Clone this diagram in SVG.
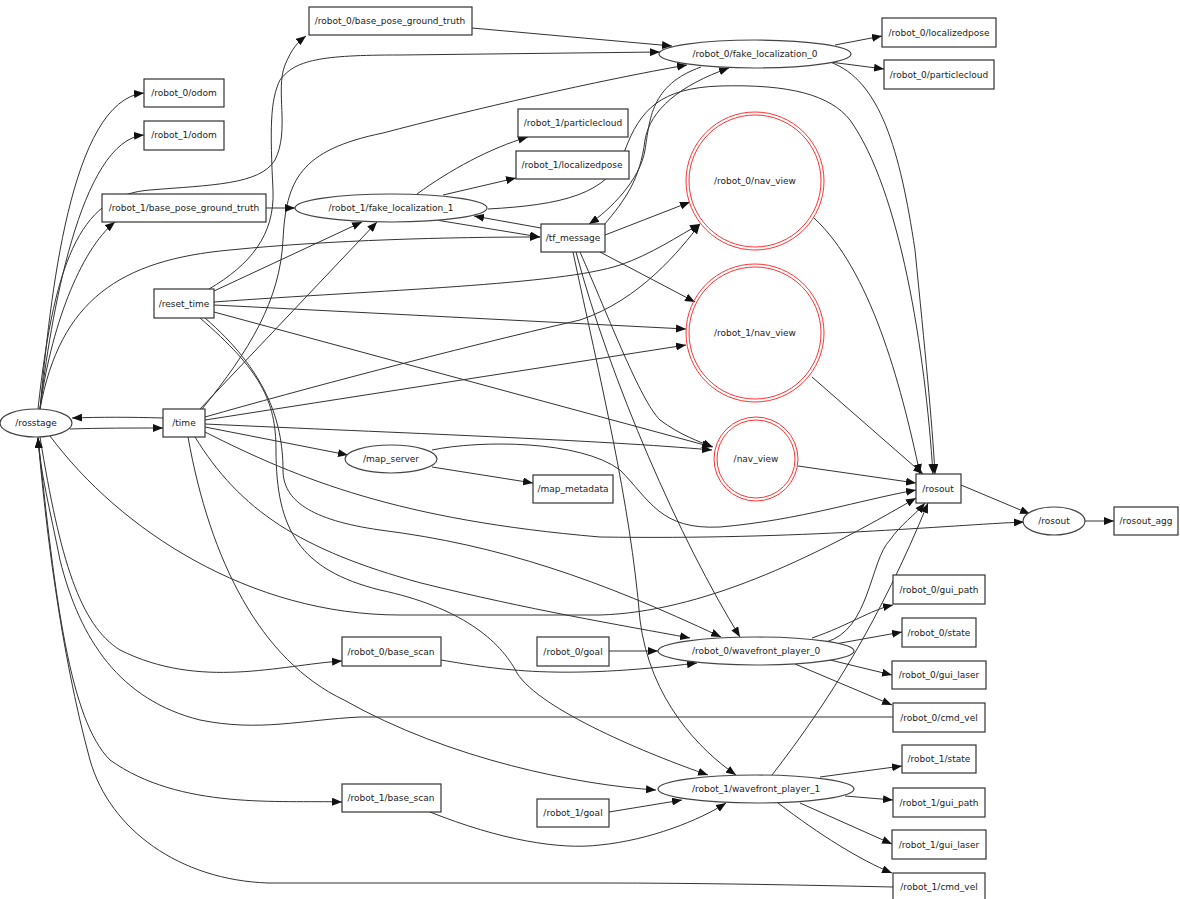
<svg xmlns="http://www.w3.org/2000/svg" width="1180" height="899" viewBox="0 0 1180 899">
<style>
rect.n{fill:#fff;stroke:#333;stroke-width:1.2}
ellipse.n{fill:#fff;stroke:#444;stroke-width:1.2}
ellipse.r{fill:none;stroke:#f33;stroke-width:1}
text{font-family:"DejaVu Sans",sans-serif;font-size:9px;fill:#222;text-anchor:middle;dominant-baseline:central}
#edges path{fill:none;stroke:#333;stroke-width:1;marker-end:url(#a)}
</style>
<defs><marker id="a" markerUnits="userSpaceOnUse" markerWidth="10" markerHeight="8" refX="10" refY="4" orient="auto"><path d="M0,0 L10,4 L0,8 z" fill="#111"/></marker></defs>
<rect width="1180" height="899" fill="#fff"/>
<g id="edges">
<path d="M40,409 C50,300 70,100 144,93"/>
<path d="M40,409 C50,320 80,140 144,135"/>
<path d="M38,409 C55,250 85,195 150,190 C210,185 260,185 275,160 C290,130 275,90 285,65 C292,48 298,42 306,36"/>
<path d="M40,409 C50,330 80,250 115,222"/>
<path d="M40,409 C60,300 120,260 230,250 C330,240 450,237 540,237"/>
<path d="M70,429 C100,428 130,428 163,428"/>
<path d="M163,418 C130,417 100,417 72,418"/>
<path d="M50,436 C120,530 250,615 400,615 L600,615 C700,612 810,560 916,498"/>
<path d="M40,437 C60,560 80,625 120,650 C200,690 280,665 342,661"/>
<path d="M38,437 C55,600 70,720 110,760 C180,810 280,800 342,802"/>
<path d="M893,717 L360,717 C300,720 260,732 200,720 C120,700 80,640 60,560 C50,510 40,470 38,438"/>
<path d="M893,887 C800,885 700,883 600,883 L268,883 C180,880 110,830 90,760 C60,650 45,520 38,438"/>
<path d="M200,409 L377,222"/>
<path d="M214,291 L362,222"/>
<path d="M202,409 C250,350 280,300 283,240 C286,180 300,150 383,133 C470,110 600,80 687,65"/>
<path d="M209,289 C250,265 275,235 273,190 C270,130 270,100 280,80 C295,60 320,55 400,55 L660,52"/>
<path d="M472,28 L672,46"/>
<path d="M835,45 L882,36"/>
<path d="M830,62 L884,69"/>
<path d="M830,62 C880,80 900,150 915,250 C925,350 932,420 935,474"/>
<path d="M488,209 C560,205 610,195 625,150 C640,110 660,88 720,86 C790,84 830,95 850,120 C900,190 925,350 933,474"/>
<path d="M701,67 C650,85 650,120 645,150 C640,180 610,210 589,224"/>
<path d="M604,225 C625,200 640,180 645,140 C650,110 680,85 729,68"/>
<path d="M266,208 L295,208"/>
<path d="M417,194 C450,170 490,148 528,137"/>
<path d="M443,195 L516,178"/>
<path d="M541,228 L474,216"/>
<path d="M436,220 L540,237"/>
<path d="M605,235 L690,202"/>
<path d="M600,252 L695,302"/>
<path d="M580,252 C610,320 640,400 660,420 C680,435 700,442 713,447"/>
<path d="M576,252 C610,380 680,540 740,637"/>
<path d="M573,252 C600,380 630,500 640,620 C650,700 700,750 736,775"/>
<path d="M214,302 C380,290 560,285 620,265 C650,255 680,235 700,224"/>
<path d="M205,417 C300,390 450,350 580,320 C640,300 680,250 700,224"/>
<path d="M214,305 L686,329"/>
<path d="M205,420 L686,345"/>
<path d="M214,312 L712,447"/>
<path d="M205,424 C400,433 600,440 712,450"/>
<path d="M205,427 L348,455"/>
<path d="M432,467 L533,483"/>
<path d="M432,450 C480,440 580,440 620,470 C650,500 660,530 720,527 C800,520 860,500 916,490"/>
<path d="M205,432 C300,480 400,520 600,537 C800,540 950,525 1024,522"/>
<path d="M195,437 C240,510 300,550 421,583 C530,610 620,625 690,638"/>
<path d="M188,437 C210,560 260,660 344,700 C450,760 580,785 656,790"/>
<path d="M200,318 C260,370 276,400 276,450 C276,530 300,570 380,590 C460,607 500,640 517,673 C540,710 650,755 708,775"/>
<path d="M205,318 C265,370 283,420 283,470 C283,500 310,520 380,530 C500,545 600,580 721,637"/>
<path d="M814,218 C870,270 900,380 920,474"/>
<path d="M812,377 L923,474"/>
<path d="M798,466 L916,483"/>
<path d="M961,485 L1030,514"/>
<path d="M1085,521 L1114,521"/>
<path d="M609,651 L658,651"/>
<path d="M441,660 C500,670 560,680 697,663"/>
<path d="M812,638 C850,625 870,610 893,605"/>
<path d="M835,644 L902,632"/>
<path d="M830,660 L892,675"/>
<path d="M795,664 L892,705"/>
<path d="M826,642 C870,630 870,560 890,540 C900,525 915,515 925,503"/>
<path d="M772,775 C830,700 880,620 928,503"/>
<path d="M609,812 L682,800"/>
<path d="M430,812 C500,840 560,850 600,845 C650,840 700,820 726,803"/>
<path d="M820,777 L902,766"/>
<path d="M845,796 L893,800"/>
<path d="M800,803 L892,844"/>
<path d="M778,803 C820,835 860,860 892,873"/>
</g>
<g id="n_bpgt0"><rect class="n" x="309" y="7" width="163" height="28"/><text x="390" y="21">/robot_0/base_pose_ground_truth</text></g>
<g id="n_odom0"><rect class="n" x="144" y="79" width="80" height="28"/><text x="184" y="93">/robot_0/odom</text></g>
<g id="n_odom1"><rect class="n" x="144" y="121" width="80" height="29"/><text x="184" y="135">/robot_1/odom</text></g>
<g id="n_bpgt1"><rect class="n" x="102" y="194" width="164" height="28"/><text x="184" y="208">/robot_1/base_pose_ground_truth</text></g>
<g id="n_fl1"><ellipse class="n" cx="391" cy="208" rx="96" ry="14"/><text x="391" y="208">/robot_1/fake_localization_1</text></g>
<g id="n_pc1"><rect class="n" x="518" y="109" width="110" height="28"/><text x="573" y="123">/robot_1/particlecloud</text></g>
<g id="n_lp1"><rect class="n" x="516" y="151" width="113" height="28"/><text x="572" y="165">/robot_1/localizedpose</text></g>
<g id="n_tf"><rect class="n" x="541" y="224" width="64" height="28"/><text x="573" y="238">/tf_message</text></g>
<g id="n_rt"><rect class="n" x="154" y="289" width="60" height="29"/><text x="184" y="304">/reset_time</text></g>
<g id="n_rosstage"><ellipse class="n" cx="36" cy="423" rx="36" ry="14"/><text x="36" y="423">/rosstage</text></g>
<g id="n_time"><rect class="n" x="163" y="409" width="42" height="28"/><text x="184" y="423">/time</text></g>
<g id="n_fl0"><ellipse class="n" cx="755" cy="54" rx="96" ry="14"/><text x="755" y="54">/robot_0/fake_localization_0</text></g>
<g id="n_lp0"><rect class="n" x="882" y="18" width="114" height="29"/><text x="939" y="33">/robot_0/localizedpose</text></g>
<g id="n_pc0"><rect class="n" x="884" y="60" width="110" height="29"/><text x="939" y="75">/robot_0/particlecloud</text></g>
<g id="n_rnv0"><ellipse class="r" cx="755" cy="181" rx="69" ry="69"/><ellipse class="r" cx="755" cy="181" rx="66" ry="66"/><text x="755" y="181">/robot_0/nav_view</text></g>
<g id="n_rnv1"><ellipse class="r" cx="755" cy="333" rx="69" ry="69"/><ellipse class="r" cx="755" cy="333" rx="66" ry="66"/><text x="755" y="333">/robot_1/nav_view</text></g>
<g id="n_nv"><ellipse class="r" cx="756" cy="459" rx="42" ry="42"/><ellipse class="r" cx="756" cy="459" rx="39" ry="39"/><text x="756" y="459">/nav_view</text></g>
<g id="n_ms"><ellipse class="n" cx="391" cy="459" rx="46" ry="14"/><text x="391" y="459">/map_server</text></g>
<g id="n_mm"><rect class="n" x="533" y="475" width="80" height="28"/><text x="573" y="489">/map_metadata</text></g>
<g id="n_rosout"><rect class="n" x="916" y="474" width="45" height="29"/><text x="938" y="489">/rosout</text></g>
<g id="n_rosout_e"><ellipse class="n" cx="1054" cy="521" rx="31" ry="14"/><text x="1054" y="521">/rosout</text></g>
<g id="n_agg"><rect class="n" x="1114" y="507" width="64" height="28"/><text x="1146" y="521">/rosout_agg</text></g>
<g id="n_bs0"><rect class="n" x="342" y="637" width="99" height="29"/><text x="391" y="652">/robot_0/base_scan</text></g>
<g id="n_goal0"><rect class="n" x="537" y="637" width="72" height="29"/><text x="573" y="652">/robot_0/goal</text></g>
<g id="n_wf0"><ellipse class="n" cx="756" cy="651" rx="98" ry="14"/><text x="756" y="651">/robot_0/wavefront_player_0</text></g>
<g id="n_gp0"><rect class="n" x="893" y="575" width="92" height="29"/><text x="939" y="590">/robot_0/gui_path</text></g>
<g id="n_st0"><rect class="n" x="902" y="618" width="74" height="29"/><text x="939" y="633">/robot_0/state</text></g>
<g id="n_gl0"><rect class="n" x="892" y="661" width="94" height="28"/><text x="939" y="675">/robot_0/gui_laser</text></g>
<g id="n_cv0"><rect class="n" x="893" y="703" width="92" height="29"/><text x="939" y="718">/robot_0/cmd_vel</text></g>
<g id="n_st1"><rect class="n" x="902" y="745" width="74" height="28"/><text x="939" y="759">/robot_1/state</text></g>
<g id="n_gp1"><rect class="n" x="893" y="788" width="92" height="29"/><text x="939" y="803">/robot_1/gui_path</text></g>
<g id="n_gl1"><rect class="n" x="892" y="830" width="94" height="29"/><text x="939" y="845">/robot_1/gui_laser</text></g>
<g id="n_cv1"><rect class="n" x="893" y="873" width="92" height="28"/><text x="939" y="887">/robot_1/cmd_vel</text></g>
<g id="n_wf1"><ellipse class="n" cx="756" cy="789" rx="98" ry="14"/><text x="756" y="789">/robot_1/wavefront_player_1</text></g>
<g id="n_bs1"><rect class="n" x="342" y="784" width="99" height="28"/><text x="391" y="798">/robot_1/base_scan</text></g>
<g id="n_goal1"><rect class="n" x="537" y="799" width="72" height="28"/><text x="573" y="813">/robot_1/goal</text></g>
</svg>
